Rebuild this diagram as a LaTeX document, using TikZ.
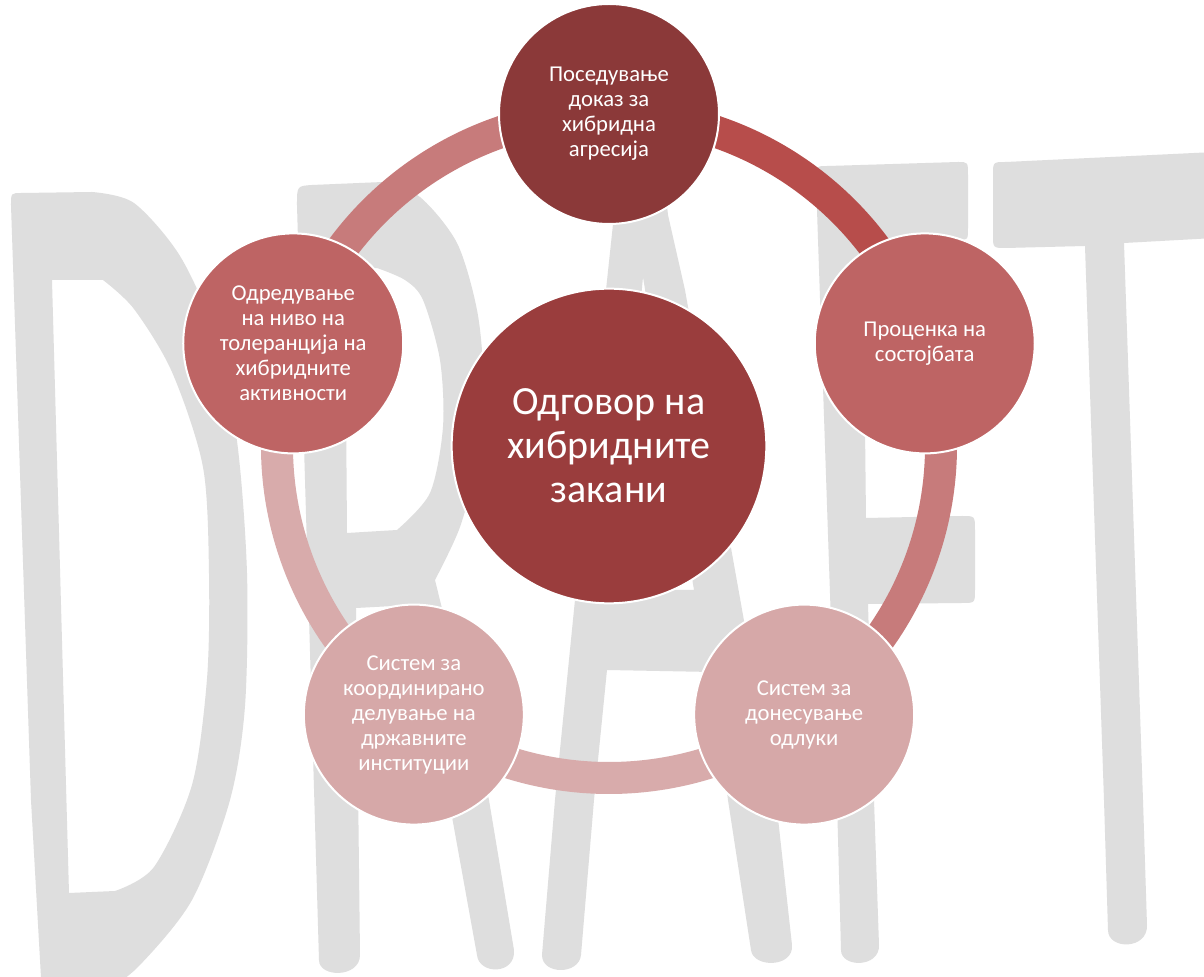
\documentclass[tikz,border=0pt]{standalone}
\usepackage{fontspec}
\setmainfont{Carlito}
\usetikzlibrary{backgrounds}

\definecolor{draftgray}{HTML}{DEDEDE}
\definecolor{hubred}{HTML}{9A3D3D}
\definecolor{topred}{HTML}{8B3939}
\definecolor{midred}{HTML}{BE6464}
\definecolor{palered}{HTML}{D6A8A8}
\definecolor{banddark}{HTML}{B74D4B}
\definecolor{bandmid}{HTML}{C77B7B}
\definecolor{bandpale}{HTML}{D8ABAB}

\tikzset{
    stage/.style={circle, draw=white, line width=1.5pt, minimum size=165pt, inner sep=0pt,
        align=center, text=white, font=\fontsize{17}{18.75}\selectfont},
    hub/.style={stage, minimum size=236pt, font=\fontsize{30}{33}\selectfont},
    band/.style={line width=24pt, draw=#1},
    letter/.style={fill=draftgray, even odd rule}
}

\begin{document}
\begin{tikzpicture}[x=0.75pt, y=0.75pt]

        \def\r{332}

        \useasboundingbox (-609,-531) rectangle (595,446);

        \node [hub, fill=hubred] (hub) at (0,0) {Одговор на\\хибридните\\закани};

        \node [stage, fill=topred] (evidence) at (90:\r) {Поседување\\доказ за\\хибридна\\агресија};
        \node [stage, fill=midred] (assess) at (18:\r) {Проценка на\\состојбата};
        \node [stage, fill=palered] (decide) at (-54:\r) {Систем за\\донесување\\одлуки};
        \node [stage, fill=palered] (coord) at (-126:\r) {Систем за\\координирано\\делување на\\државните\\институции};
        \node [stage, fill=midred] (tolerance) at (162:\r) {Одредување\\на ниво на\\толеранција на\\хибридните\\активности};

        \begin{scope}[on background layer]
            \fill [white] (-609,-531) rectangle (595,446);

            \begin{scope}[shift={(-609,446)}, yscale=-1]
                \clip (0,0) rectangle (1204,977);

                % D
                \fill [letter] (11,205) .. controls (11,193) .. (22,193) -- (92,192)
                    -- plot [smooth] coordinates {(92,192) (134,203) (180,256) (215,335) (237,441) (247,573) (245,706) (230,800) (192,900) (138,967) (100,995)}
                    -- (42,995) -- (31,800) -- cycle
                    (52,280) -- plot [smooth] coordinates {(103,280) (134,309) (172,372) (203,467) (209,573) (207,679) (192,785) (154,867) (115,891)}
                    -- (69,893) -- cycle;

                % R
                \fill [letter] (319,960) -- (297,205) .. controls (297,186) .. (312,185) -- (383,182)
                    -- plot [smooth] coordinates {(383,182) (420,197) (457,243) (477,310) (483,377) (477,460) (460,527) (435,580)}
                    -- (489,800) -- (514,950) .. controls (516,975) and (479,975) .. (477,955)
                    -- (449,800) -- (412,605) -- (356,608) -- (360,955) .. controls (360,978) and (319,978) .. (319,960) -- cycle
                    (345,270) -- plot [smooth] coordinates {(377,268) (405,280) (423,300) (440,360) (443,427) (430,493) (397,530)}
                    -- (347,533) -- cycle;

                % A
                \fill [letter] (542,955) -- (555,800) -- (606,290) -- (614,215) .. controls (618,160) .. (640,158)
                    .. controls (662,160) .. (668,215) -- (685,290) -- (776,800) -- (792,945)
                    .. controls (794,968) and (753,968) .. (751,950) -- (728,800) -- (712,672) -- (607,670)
                    -- (594,800) -- (581,955) .. controls (579,975) and (542,975) .. (542,955) -- cycle
                    (643,277) -- (694,590) -- (614,590) -- cycle;

                % F
                \fill [letter] (816,180) .. controls (816,166) .. (828,166) -- (958,162) .. controls (968,162) .. (968,175)
                    -- (968,228) .. controls (968,240) .. (958,240) -- (863,243) -- (866,518) -- (962,516)
                    .. controls (975,516) .. (975,530) -- (975,590) .. controls (975,603) .. (962,603) -- (868,604)
                    -- (874,800) -- (879,945) .. controls (880,968) and (841,968) .. (841,950) -- (837,800) -- cycle;

                % T
                \fill [letter] (993,175) .. controls (993,162) .. (1006,162) -- (1215,152) -- (1215,238) -- (1124,243)
                    -- (1143,800) -- (1147,925) .. controls (1148,950) and (1108,950) .. (1108,930) -- (1104,800)
                    -- (1085,246) -- (1006,248) .. controls (993,248) .. (993,235) -- cycle;
            \end{scope}

            \draw [band=banddark] (evidence.center) arc [start angle=90, end angle=18, radius=\r];
            \draw [band=bandmid] (assess.center) arc [start angle=18, end angle=-54, radius=\r];
            \draw [band=bandpale] (decide.center) arc [start angle=-54, end angle=-126, radius=\r];
            \draw [band=bandpale] (coord.center) arc [start angle=-126, end angle=-198, radius=\r];
            \draw [band=bandmid] (tolerance.center) arc [start angle=162, end angle=90, radius=\r];
        \end{scope}

    \end{tikzpicture}
\end{document}
